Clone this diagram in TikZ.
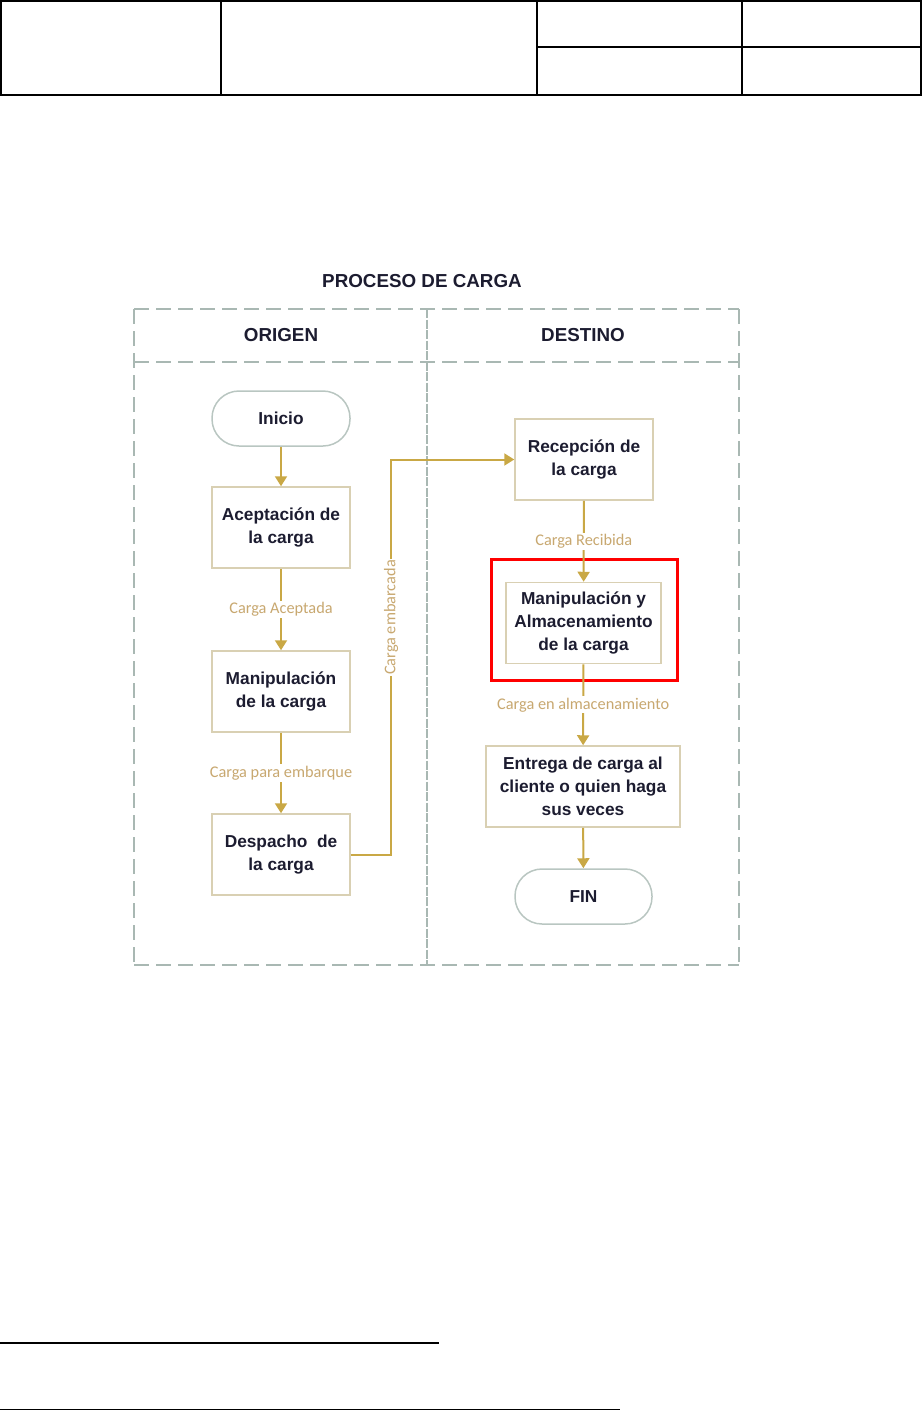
\documentclass[tikz,border=0pt]{standalone}
\usepackage{fontspec}
\setmainfont{Liberation Sans}
\newfontfamily\lblfam{Carlito}
\usetikzlibrary{arrows.meta}
\definecolor{goldc}{HTML}{C9A845}
\definecolor{goldtxt}{HTML}{C8A870}
\definecolor{boxc}{HTML}{D9D0B3}
\definecolor{termc}{HTML}{B9C6C1}
\definecolor{lanec}{HTML}{A9B8B3}
\definecolor{txtc}{HTML}{1C1C30}
\tikzset{
  proc/.style={draw=boxc, line width=1.5pt, minimum width=138pt, minimum height=81pt, align=center, font=\bfseries\fontsize{17.3}{23.3}\selectfont, text=txtc, inner sep=2pt},
  term/.style={draw=termc, line width=1.5pt, minimum width=138pt, minimum height=55pt, rounded corners=27pt, align=center, font=\bfseries\fontsize{17.3}{20}\selectfont, text=txtc},
  flow/.style={draw=goldc, line width=2pt, -{Triangle[width=12pt,length=10pt]}},
  lbl/.style={font=\lblfam\fontsize{16.3}{18}\selectfont, text=goldtxt, fill=white, inner sep=1.5pt},
  lane/.style={draw=lanec, line width=1.5pt, dash pattern=on 15pt off 7pt},
  lanehead/.style={font=\bfseries\fontsize{18.8}{20}\selectfont, text=txtc},
  tab/.style={draw=black, line width=1.5pt}
}
\begin{document}
\begin{tikzpicture}[x=1pt,y=-1pt]
\useasboundingbox (0,0) rectangle (922,1411);
% header table
\draw[tab] (1,1) rectangle (921,95);
\draw[tab] (221,1) -- (221,95);
\draw[tab] (537,1) -- (537,95);
\draw[tab] (742,1) -- (742,95);
\draw[tab] (537,47) -- (921,47);
% title
\node[font=\bfseries\fontsize{18.8}{20}\selectfont, text=txtc] (title) at (422,281) {PROCESO DE CARGA};
% swimlanes
\draw[lane] (134,309) -- (739,309);
\draw[lane] (134,362) -- (739,362);
\draw[lane] (134,965) -- (739,965);
\draw[lane] (134,309) -- (134,965);
\draw[lane] (739,309) -- (739,965);
\draw[draw=lanec, line width=1.5pt, dash pattern=on 9pt off 1.5pt] (427,309) -- (427,965);
\node[lanehead] (origen) at (281,335) {ORIGEN};
\node[lanehead] (destino) at (583,335) {DESTINO};
% nodes
\node[term] (ini) at (281,418.5) {Inicio};
\node[proc] (acep) at (281,527.5) {Aceptación de\\la carga};
\node[proc] (manip) at (281,691.5) {Manipulación\\de la carga};
\node[proc] (desp) at (281,854.5) {Despacho\ \ de\\la carga};
\node[proc] (rec) at (584,459.5) {Recepción de\\la carga};
\node[proc, minimum width=155pt] (alm) at (583.5,623) {Manipulación y\\Almacenamiento\\de la carga};
\node[proc, minimum width=194pt] (ent) at (583,786.5) {Entrega de carga al\\cliente o quien haga\\sus veces};
\node[term, minimum width=137pt] (fin) at (583.5,896.5) {FIN};
\node[draw=red, line width=3pt, minimum width=186pt, minimum height=121pt] (hl) at (584,619.5) {};
% connectors
\draw[flow] (ini) -- (acep);
\draw[flow] (acep) -- node[lbl] {Carga Aceptada} (manip);
\draw[flow] (manip) -- node[lbl] {Carga para embarque} (desp);
\coordinate (bend) at (391,854.5);
\draw[flow] (desp.east) -- (bend) |- node[lbl, rotate=90, pos=0.3] {Carga embarcada} (rec.west);
\draw[flow] (rec) -- node[lbl, pos=0.5] {Carga Recibida} (alm);
\draw[flow] (alm) -- node[lbl] {Carga en almacenamiento} (ent);
\draw[flow] (ent) -- (fin);
% footnote rules
\draw[line width=2pt] (0,1343) -- (439,1343);
\draw[line width=1pt] (0,1409.5) -- (620,1409.5);
\end{tikzpicture}
\end{document}
